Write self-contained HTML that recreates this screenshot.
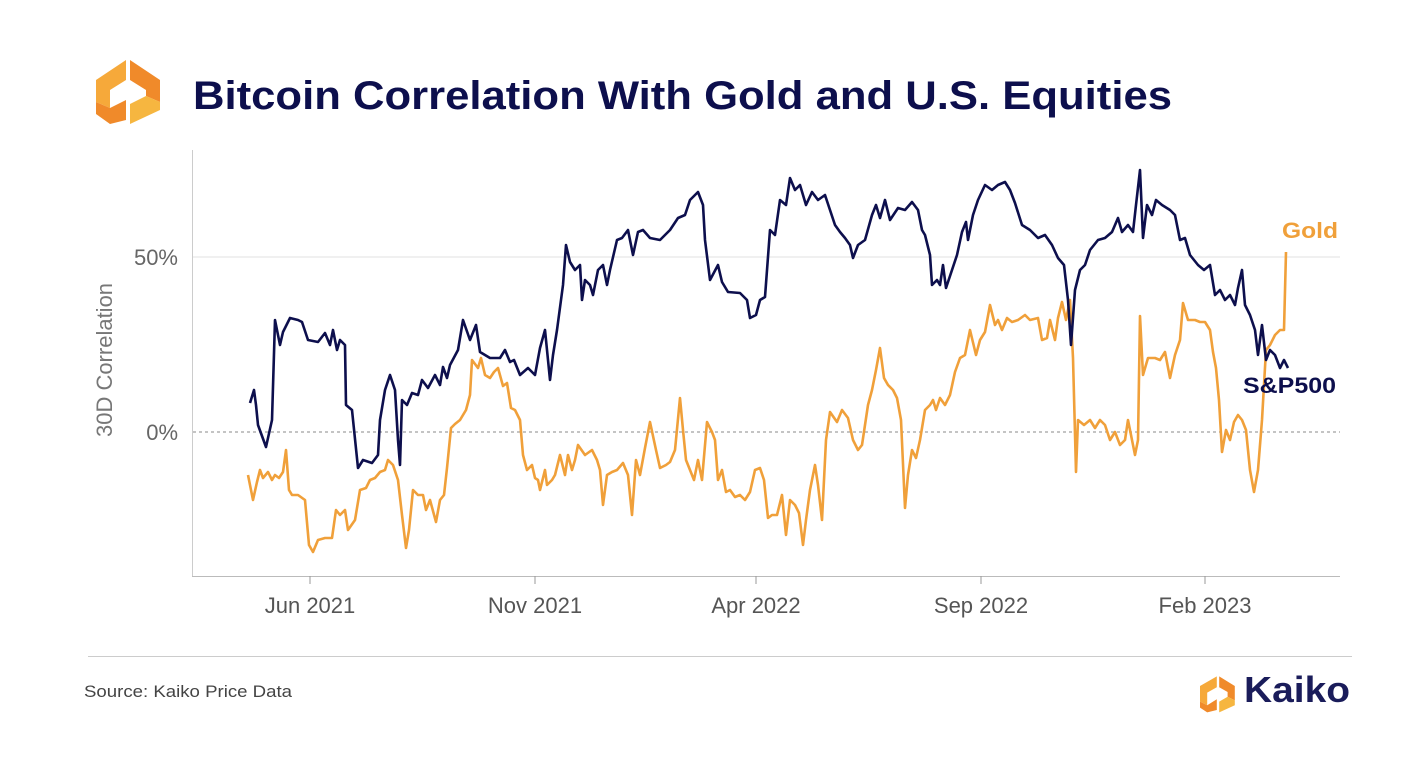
<!DOCTYPE html>
<html><head><meta charset="utf-8"><style>
body{margin:0;background:#fff;width:1426px;height:764px;overflow:hidden;font-family:"Liberation Sans",sans-serif}
</style></head><body>
<svg width="1426" height="764" viewBox="0 0 1426 764" xmlns="http://www.w3.org/2000/svg" font-family="Liberation Sans, sans-serif">
<g>
<polygon points="96,80 126,60 126,80 110,90 110,108 96,102" fill="#f6a93a"/>
<polygon points="96,102 110,108 126,100 126,120 110,124 96,114" fill="#f08a2a"/>
<polygon points="130,60 160,80 160,102 146,96 146,90 130,80" fill="#f08a2a"/>
<polygon points="160,102 160,110 130,124 130,104 146,96" fill="#f6b640"/>
</g>
<text x="193" y="109" font-size="40" font-weight="bold" fill="#0d0f4d" textLength="979" lengthAdjust="spacingAndGlyphs">Bitcoin Correlation With Gold and U.S. Equities</text>
<line x1="193" y1="257" x2="1340" y2="257" stroke="#e2e2e2" stroke-width="1"/>
<line x1="193" y1="432" x2="1340" y2="432" stroke="#888" stroke-width="1" stroke-dasharray="3,3"/>
<line x1="192.5" y1="150" x2="192.5" y2="576" stroke="#ccc"/>
<line x1="192" y1="576.5" x2="1340" y2="576.5" stroke="#bbb"/>
<g stroke="#999" stroke-width="1">
<line x1="310" y1="576" x2="310" y2="584"/><line x1="535" y1="576" x2="535" y2="584"/><line x1="756" y1="576" x2="756" y2="584"/><line x1="981" y1="576" x2="981" y2="584"/><line x1="1205" y1="576" x2="1205" y2="584"/>
</g>
<g stroke="#aaa" stroke-width="1" id="minor"></g>
<script>
var g=document.getElementById('minor'),s='';
for(var x=198;x<1340;x+=22.4){s+='<line x1="'+x.toFixed(1)+'" y1="576" x2="'+x.toFixed(1)+'" y2="580"/>';}
g.innerHTML=s;
</script>
<g fill="#555" font-size="22" text-anchor="middle">
<text x="310" y="613">Jun 2021</text><text x="535" y="613">Nov 2021</text><text x="756" y="613">Apr 2022</text><text x="981" y="613">Sep 2022</text><text x="1205" y="613">Feb 2023</text>
</g>
<g fill="#666" font-size="22" text-anchor="end">
<text x="178" y="265">50%</text><text x="178" y="440">0%</text>
</g>
<text transform="translate(112,360) rotate(-90)" fill="#777" font-size="22" text-anchor="middle">30D Correlation</text>
<polyline fill="none" stroke="#f0a03a" stroke-width="2.6" stroke-linejoin="round" points="248,475 253,500 257,482 260,470 263,478 268,472 272,480 275,475 279,478 283,472 286,450 289,490 292,495 298,495 305,500 309,545 313,552 318,540 325,538 332,538 336,510 340,515 345,510 348,530 355,520 360,490 366,488 370,480 375,478 380,472 385,470 388,460 393,465 398,480 402,515 406,548 409,530 413,490 418,495 423,495 426,510 430,500 436,522 440,500 444,495 447,468 451,428 455,424 460,420 466,410 470,395 472,360 478,368 481,358 485,375 490,378 494,372 498,368 503,386 507,383 511,408 515,410 520,420 523,455 527,470 532,465 535,478 538,480 540,490 545,470 547,485 552,480 555,475 560,455 565,475 568,455 572,470 575,460 578,445 585,455 592,450 597,460 600,470 603,505 607,475 612,472 617,470 623,463 628,475 632,515 636,460 640,475 645,448 650,422 656,450 660,468 666,465 670,462 675,450 680,398 683,430 686,460 690,470 694,480 698,460 702,480 707,422 712,432 715,440 718,480 722,470 726,492 730,490 735,497 740,495 745,500 750,492 755,470 760,468 764,480 768,518 772,515 777,515 782,495 786,535 790,500 795,505 799,513 803,545 806,520 810,490 815,465 818,485 822,520 826,440 830,412 837,422 842,410 848,418 853,440 858,450 862,445 868,405 872,390 876,370 880,348 884,378 888,385 893,390 897,398 901,420 905,508 908,475 912,450 916,458 920,440 925,410 930,405 933,400 936,410 940,398 945,405 950,395 955,372 960,358 965,355 970,330 976,355 980,340 985,332 990,305 995,325 998,320 1002,330 1007,318 1012,322 1018,320 1025,315 1030,320 1038,318 1042,340 1047,338 1050,320 1055,340 1058,318 1062,302 1066,320 1070,300 1073,358 1076,472 1078,420 1084,425 1090,420 1095,428 1100,420 1105,425 1110,440 1115,432 1120,445 1125,440 1128,420 1132,440 1135,455 1138,440 1140,316 1143,375 1148,358 1155,358 1160,360 1165,352 1170,378 1175,355 1180,340 1183,303 1188,320 1195,320 1200,322 1205,322 1210,330 1213,352 1216,368 1219,400 1222,452 1226,430 1230,440 1234,422 1238,415 1242,420 1246,430 1250,470 1254,492 1258,470 1262,420 1266,350 1270,345 1275,335 1280,330 1284,330 1286,252"/>
<polyline fill="none" stroke="#0d0f4d" stroke-width="2.6" stroke-linejoin="round" points="250,403 254,390 256,405 258,425 266,447 272,420 275,320 280,345 283,332 290,318 298,320 302,322 308,340 318,342 325,333 330,345 333,330 337,350 340,340 345,345 346,405 352,410 358,468 363,460 372,463 378,455 380,420 385,390 390,375 395,390 398,440 400,465 402,400 407,405 412,393 418,395 422,380 428,388 435,375 440,385 443,367 447,378 450,365 458,350 463,320 470,340 476,325 480,352 490,358 500,358 505,350 510,362 514,360 520,375 528,368 535,375 540,348 545,330 550,380 553,355 557,330 563,285 566,245 570,262 575,270 580,265 582,300 585,280 590,285 593,295 598,270 603,265 607,285 610,270 617,240 622,238 628,230 633,255 638,232 643,230 650,238 660,240 670,230 678,218 685,215 690,200 693,197 698,192 703,205 705,240 710,280 718,265 722,282 728,292 740,293 747,300 750,318 756,315 760,300 765,297 770,230 775,235 780,200 786,205 790,178 795,190 800,185 806,205 812,192 818,200 825,195 830,210 835,225 840,232 845,238 850,245 853,258 858,245 865,240 872,215 876,205 880,218 885,200 890,220 898,208 905,210 912,202 918,210 922,230 925,235 930,255 932,285 937,280 940,285 943,265 946,288 952,270 957,255 962,232 966,222 968,240 973,215 978,200 985,185 992,190 998,185 1005,182 1010,190 1015,203 1022,225 1030,230 1038,238 1045,235 1052,245 1058,258 1064,265 1068,300 1071,345 1075,290 1080,270 1085,265 1090,250 1098,240 1105,238 1112,232 1118,218 1122,232 1128,225 1133,232 1136,205 1140,170 1143,238 1147,205 1152,215 1156,200 1162,205 1170,210 1175,215 1180,240 1185,238 1190,255 1198,265 1204,270 1210,265 1215,295 1220,290 1225,300 1230,295 1235,305 1238,288 1242,270 1245,305 1250,315 1255,330 1258,355 1262,325 1266,360 1270,350 1275,355 1280,368 1284,360 1288,368"/>
<text x="1282" y="238" font-size="22" font-weight="bold" fill="#f0a03a" textLength="56" lengthAdjust="spacingAndGlyphs">Gold</text>
<text x="1243" y="393" font-size="22" font-weight="bold" fill="#0d0f4d" textLength="93" lengthAdjust="spacingAndGlyphs">S&amp;P500</text>
<line x1="88" y1="656.5" x2="1352" y2="656.5" stroke="#ccc"/>
<text x="84" y="697" font-size="17" fill="#444" textLength="208" lengthAdjust="spacingAndGlyphs">Source: Kaiko Price Data</text>
<g transform="translate(1200,668) scale(0.6)">
<polygon points="0,30 28,14 28,32 12,41 12,62 0,56" fill="#f6a93a"/>
<polygon points="0,56 12,62 28,52 28,70 12,74 0,66" fill="#f08a2a"/>
<polygon points="32,14 58,30 58,54 46,48 46,40 32,32" fill="#f08a2a"/>
<polygon points="58,54 58,62 32,74 32,56 46,48" fill="#f6b640"/>
</g>
<text x="1244" y="702" font-size="36" font-weight="bold" fill="#1a1c5a" textLength="106" lengthAdjust="spacingAndGlyphs">Kaiko</text>
</svg>
</body></html>
